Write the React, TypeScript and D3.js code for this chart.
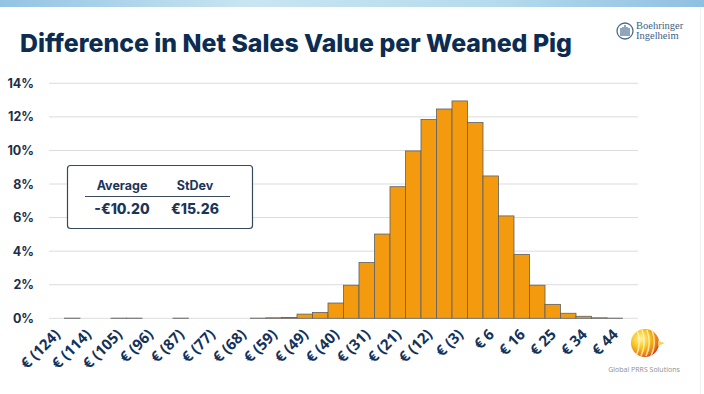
import { useEffect, useRef } from "react";
import * as d3 from "d3";

// share of simulations per €-bin (in %)
const shares = [
  0, 0.01, 0, 0, 0.01, 0.01, 0, 0, 0.01, 0, 0, 0, 0, 0.01, 0.03, 0.05,
  0.25, 0.35, 0.91, 1.97, 3.32, 5.02, 7.84, 9.97, 11.85, 12.47, 12.95, 11.66,
  8.48, 6.1, 3.81, 1.97, 0.83, 0.3, 0.12, 0.03, 0.01, 0,
];

// every other bin carries a label
const binLabels = [
  "€ (124)", "€ (114)", "€ (105)", "€ (96)", "€ (87)", "€ (77)", "€ (68)",
  "€ (59)", "€ (49)", "€ (40)", "€ (31)", "€ (21)", "€ (12)", "€ (3)",
  "€ 6", "€ 16", "€ 25", "€ 34", "€ 44",
];

const yTicks = [0, 2, 4, 6, 8, 10, 12, 14];

const statHeaders = ["Average", "StDev"];
const statValues = ["-€10.20", "€15.26"];

const W = 704;
const H = 394;
const NAVY = "#13325a";
const ORANGE = "#f39a0f";

export default function App() {
  const svgRef = useRef<SVGSVGElement | null>(null);

  useEffect(() => {
    const svg = d3.select(svgRef.current);
    svg.selectAll("*").remove();

    const x = d3
      .scaleBand<number>()
      .domain(shares.map((_, i) => i))
      .range([49, 638])
      .padding(0);
    const y = d3.scaleLinear().domain([0, 14]).range([318.3, 83.3]);

    const defs = svg.append("defs");
    const band = defs
      .append("linearGradient")
      .attr("id", "band")
      .attr("x1", "0")
      .attr("x2", "1");
    band.append("stop").attr("offset", "0").attr("stop-color", "#93c3e3");
    band.append("stop").attr("offset", "0.35").attr("stop-color", "#c8e5f2");
    band.append("stop").attr("offset", "0.7").attr("stop-color", "#b5dbee");
    band.append("stop").attr("offset", "1").attr("stop-color", "#8fbfe1");

    const ball = defs
      .append("radialGradient")
      .attr("id", "ball")
      .attr("cx", "0.35")
      .attr("cy", "0.35")
      .attr("r", "0.75");
    ball.append("stop").attr("offset", "0").attr("stop-color", "#fff4a0");
    ball.append("stop").attr("offset", "0.45").attr("stop-color", "#f6c21a");
    ball.append("stop").attr("offset", "0.8").attr("stop-color", "#e8761a");
    ball.append("stop").attr("offset", "1").attr("stop-color", "#c42a1a");

    svg.append("rect").attr("width", W).attr("height", H).attr("fill", "#fff");
    svg.append("rect").attr("width", W).attr("height", 7).attr("fill", "url(#band)");
    svg
      .append("line")
      .attr("x1", 700.5)
      .attr("x2", 700.5)
      .attr("y1", 7)
      .attr("y2", H)
      .attr("stroke", "#eef0f2");

    // title
    svg
      .append("text")
      .attr("x", 20)
      .attr("y", 52)
      .attr("textLength", 552)
      .attr("lengthAdjust", "spacingAndGlyphs")
      .attr("font-family", "Inter, 'Open Sans', sans-serif")
      .attr("font-weight", 800)
      .attr("font-size", 25)
      .attr("fill", "#0c2c52")
      .text("Difference in Net Sales Value per Weaned Pig");

    // gridlines
    svg
      .append("g")
      .selectAll("line")
      .data(yTicks)
      .join("line")
      .attr("x1", 49)
      .attr("x2", 638)
      .attr("y1", (d) => y(d))
      .attr("y2", (d) => y(d))
      .attr("stroke", "#dcdcdc")
      .attr("stroke-width", 1);

    // y labels
    svg
      .append("g")
      .selectAll("text")
      .data(yTicks)
      .join("text")
      .attr("x", 34)
      .attr("y", (d) => y(d))
      .attr("dy", "0.36em")
      .attr("text-anchor", "end")
      .attr("font-family", "Inter, 'Open Sans', sans-serif")
      .attr("font-weight", 700)
      .attr("font-size", 12.5)
      .attr("fill", "#1b2f4a")
      .text((d) => `${d}%`);

    // bars
    svg
      .append("g")
      .selectAll("rect")
      .data(shares.map((v, i) => ({ v, i })).filter((d) => d.v > 0))
      .join("rect")
      .attr("x", (d) => x(d.i)!)
      .attr("width", x.bandwidth())
      .attr("y", (d) => y(d.v))
      .attr("height", (d) => y(0) - y(d.v))
      .attr("fill", ORANGE)
      .attr("stroke", "#5b6068")
      .attr("stroke-width", 0.8);

    // x labels
    svg
      .append("g")
      .selectAll("text")
      .data(binLabels)
      .join("text")
      .attr("transform", (_, k) => {
        const cx = x(k * 2)! + x.bandwidth() / 2;
        return `translate(${cx - 3},${328}) rotate(-45)`;
      })
      .attr("text-anchor", "end")
      .attr("dy", "0.7em")
      .attr("font-family", "'Open Sans', sans-serif")
      .attr("font-weight", 700)
      .attr("font-size", 15)
      .attr("fill", NAVY)
      .text((d) => d);

    // stats box
    const box = svg.append("g");
    box
      .append("rect")
      .attr("x", 67.5)
      .attr("y", 165.5)
      .attr("width", 185)
      .attr("height", 63)
      .attr("rx", 3)
      .attr("fill", "#fff")
      .attr("stroke", "#34495e")
      .attr("stroke-width", 1.2);
    box
      .append("line")
      .attr("x1", 85)
      .attr("x2", 230)
      .attr("y1", 196.5)
      .attr("y2", 196.5)
      .attr("stroke", "#3c4a5a")
      .attr("stroke-width", 1.2);
    const colX = [122, 195];
    box
      .selectAll("text.h")
      .data(statHeaders)
      .join("text")
      .attr("class", "h")
      .attr("x", (_, i) => colX[i])
      .attr("y", 190)
      .attr("text-anchor", "middle")
      .attr("font-family", "Inter, sans-serif")
      .attr("font-weight", 700)
      .attr("font-size", 12.5)
      .attr("fill", "#1c3558")
      .text((d) => d);
    box
      .selectAll("text.v")
      .data(statValues)
      .join("text")
      .attr("class", "v")
      .attr("x", (_, i) => colX[i])
      .attr("y", 214)
      .attr("text-anchor", "middle")
      .attr("font-family", "Inter, sans-serif")
      .attr("font-weight", 800)
      .attr("font-size", 14)
      .attr("fill", "#1c3558")
      .text((d) => d);

    // Boehringer Ingelheim mark
    const bi = svg.append("g").attr("transform", "translate(625,31)");
    bi.append("circle").attr("r", 8).attr("fill", "none").attr("stroke", "#4a6b8f").attr("stroke-width", 1.3);
    [-4, -2, 0, 2, 4].forEach((dx, k) => {
      bi.append("rect")
        .attr("x", dx - 0.6)
        .attr("y", -5 + (k === 2 ? -1 : Math.abs(dx) * 0.5))
        .attr("width", 1.2)
        .attr("height", 10 - (k === 2 ? -1 : Math.abs(dx) * 0.5))
        .attr("fill", "#4a6b8f");
    });
    ["Boehringer", "Ingelheim"].forEach((t, i) => {
      svg
        .append("text")
        .attr("x", 636)
        .attr("y", 29 + i * 10)
        .attr("font-family", "'Liberation Serif', 'DejaVu Serif', serif")
        .attr("font-size", 10.5)
        .attr("font-weight", 400)
        .attr("fill", "#3d5f86")
        .text(t);
    });

    // Global PRRS Solutions mark
    const g = svg.append("g").attr("transform", "translate(645,343)");
    g.append("circle").attr("r", 14).attr("fill", "url(#ball)");
    [-8, -3, 2, 7].forEach((dx) => {
      g.append("path")
        .attr("d", `M${dx},-13 Q${dx + 5},0 ${dx - 1},13`)
        .attr("fill", "none")
        .attr("stroke", "#fff6c8")
        .attr("stroke-width", 1.5)
        .attr("opacity", 0.8);
    });
    g.append("path")
      .attr("d", "M13,-2 L20,0 L13,3 Z")
      .attr("fill", "#f3d46a");
    svg
      .append("text")
      .attr("x", 644)
      .attr("y", 372)
      .attr("text-anchor", "middle")
      .attr("font-family", "'Open Sans', sans-serif")
      .attr("font-size", 7)
      .attr("fill", "#8a8f96")
      .text("Global PRRS Solutions");
  }, []);

  return (
    <div style={{ position: "fixed", left: 0, top: 0 }}>
      <svg ref={svgRef} width={W} height={H} style={{ display: "block" }} />
    </div>
  );
}
